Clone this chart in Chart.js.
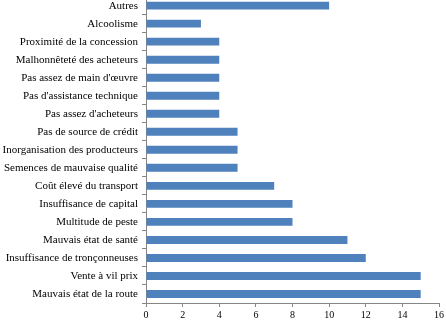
<!DOCTYPE html>
<html>
<head>
<meta charset="utf-8">
<script src="https://cdn.jsdelivr.net/npm/chart.js@4/dist/chart.umd.min.js"></script>
<style>
html,body{margin:0;padding:0;background:#fff;overflow:hidden;}
#wrap{position:absolute;left:0;top:-14px;width:446px;height:336px;}
</style>
</head>
<body>
<div id="wrap"><canvas id="c" width="446" height="336"></canvas></div>
<script>
const categories = [
  "Autres",
  "Alcoolisme",
  "Proximité de la concession",
  "Malhonnêteté des acheteurs",
  "Pas assez de main d'œuvre",
  "Pas d'assistance technique",
  "Pas assez d'acheteurs",
  "Pas de source de crédit",
  "Inorganisation des producteurs",
  "Semences de mauvaise qualité",
  "Coût élevé du transport",
  "Insuffisance de capital",
  "Multitude de peste",
  "Mauvais état de santé",
  "Insuffisance de tronçonneuses",
  "Vente à vil prix",
  "Mauvais état de la route"
];
const values = [10, 3, 4, 4, 4, 4, 4, 5, 5, 5, 7, 8, 8, 11, 12, 15, 15];
const xTicks = [0, 2, 4, 6, 8, 10, 12, 14, 16];

new Chart(document.getElementById('c'), {
  type: 'bar',
  data: {
    labels: categories,
    datasets: [{
      data: values,
      backgroundColor: '#4F81BD',
      borderWidth: 0,
      barPercentage: 0.44,
      categoryPercentage: 1.0
    }]
  },
  options: {
    indexAxis: 'y',
    responsive: false,
    animation: false,
    layout: {padding: {left: 0, right: 6, top: 0, bottom: 0}},
    plugins: {legend: {display: false}, tooltip: {enabled: false}},
    scales: {
      x: {
        min: xTicks[0],
        max: xTicks[xTicks.length - 1],
        afterBuildTicks: (s) => { s.ticks = xTicks.map(v => ({value: v})); },
        afterFit: (s) => { s.height = 19; },
        grid: {drawOnChartArea: false, drawTicks: true, tickLength: 4, color: '#868686'},
        border: {color: '#868686', width: 1},
        ticks: {color: '#000', font: {family: 'Liberation Serif', size: 10}, padding: 2, maxRotation: 0}
      },
      y: {
        afterFit: (s) => { s.width = 146; },
        grid: {drawOnChartArea: false, drawTicks: true, tickLength: 4, offset: true, color: '#868686'},
        border: {color: '#868686', width: 1},
        ticks: {color: '#000', font: {family: 'Liberation Serif', size: 11}, padding: 4, autoSkip: false}
      }
    }
  }
});
</script>
</body>
</html>
